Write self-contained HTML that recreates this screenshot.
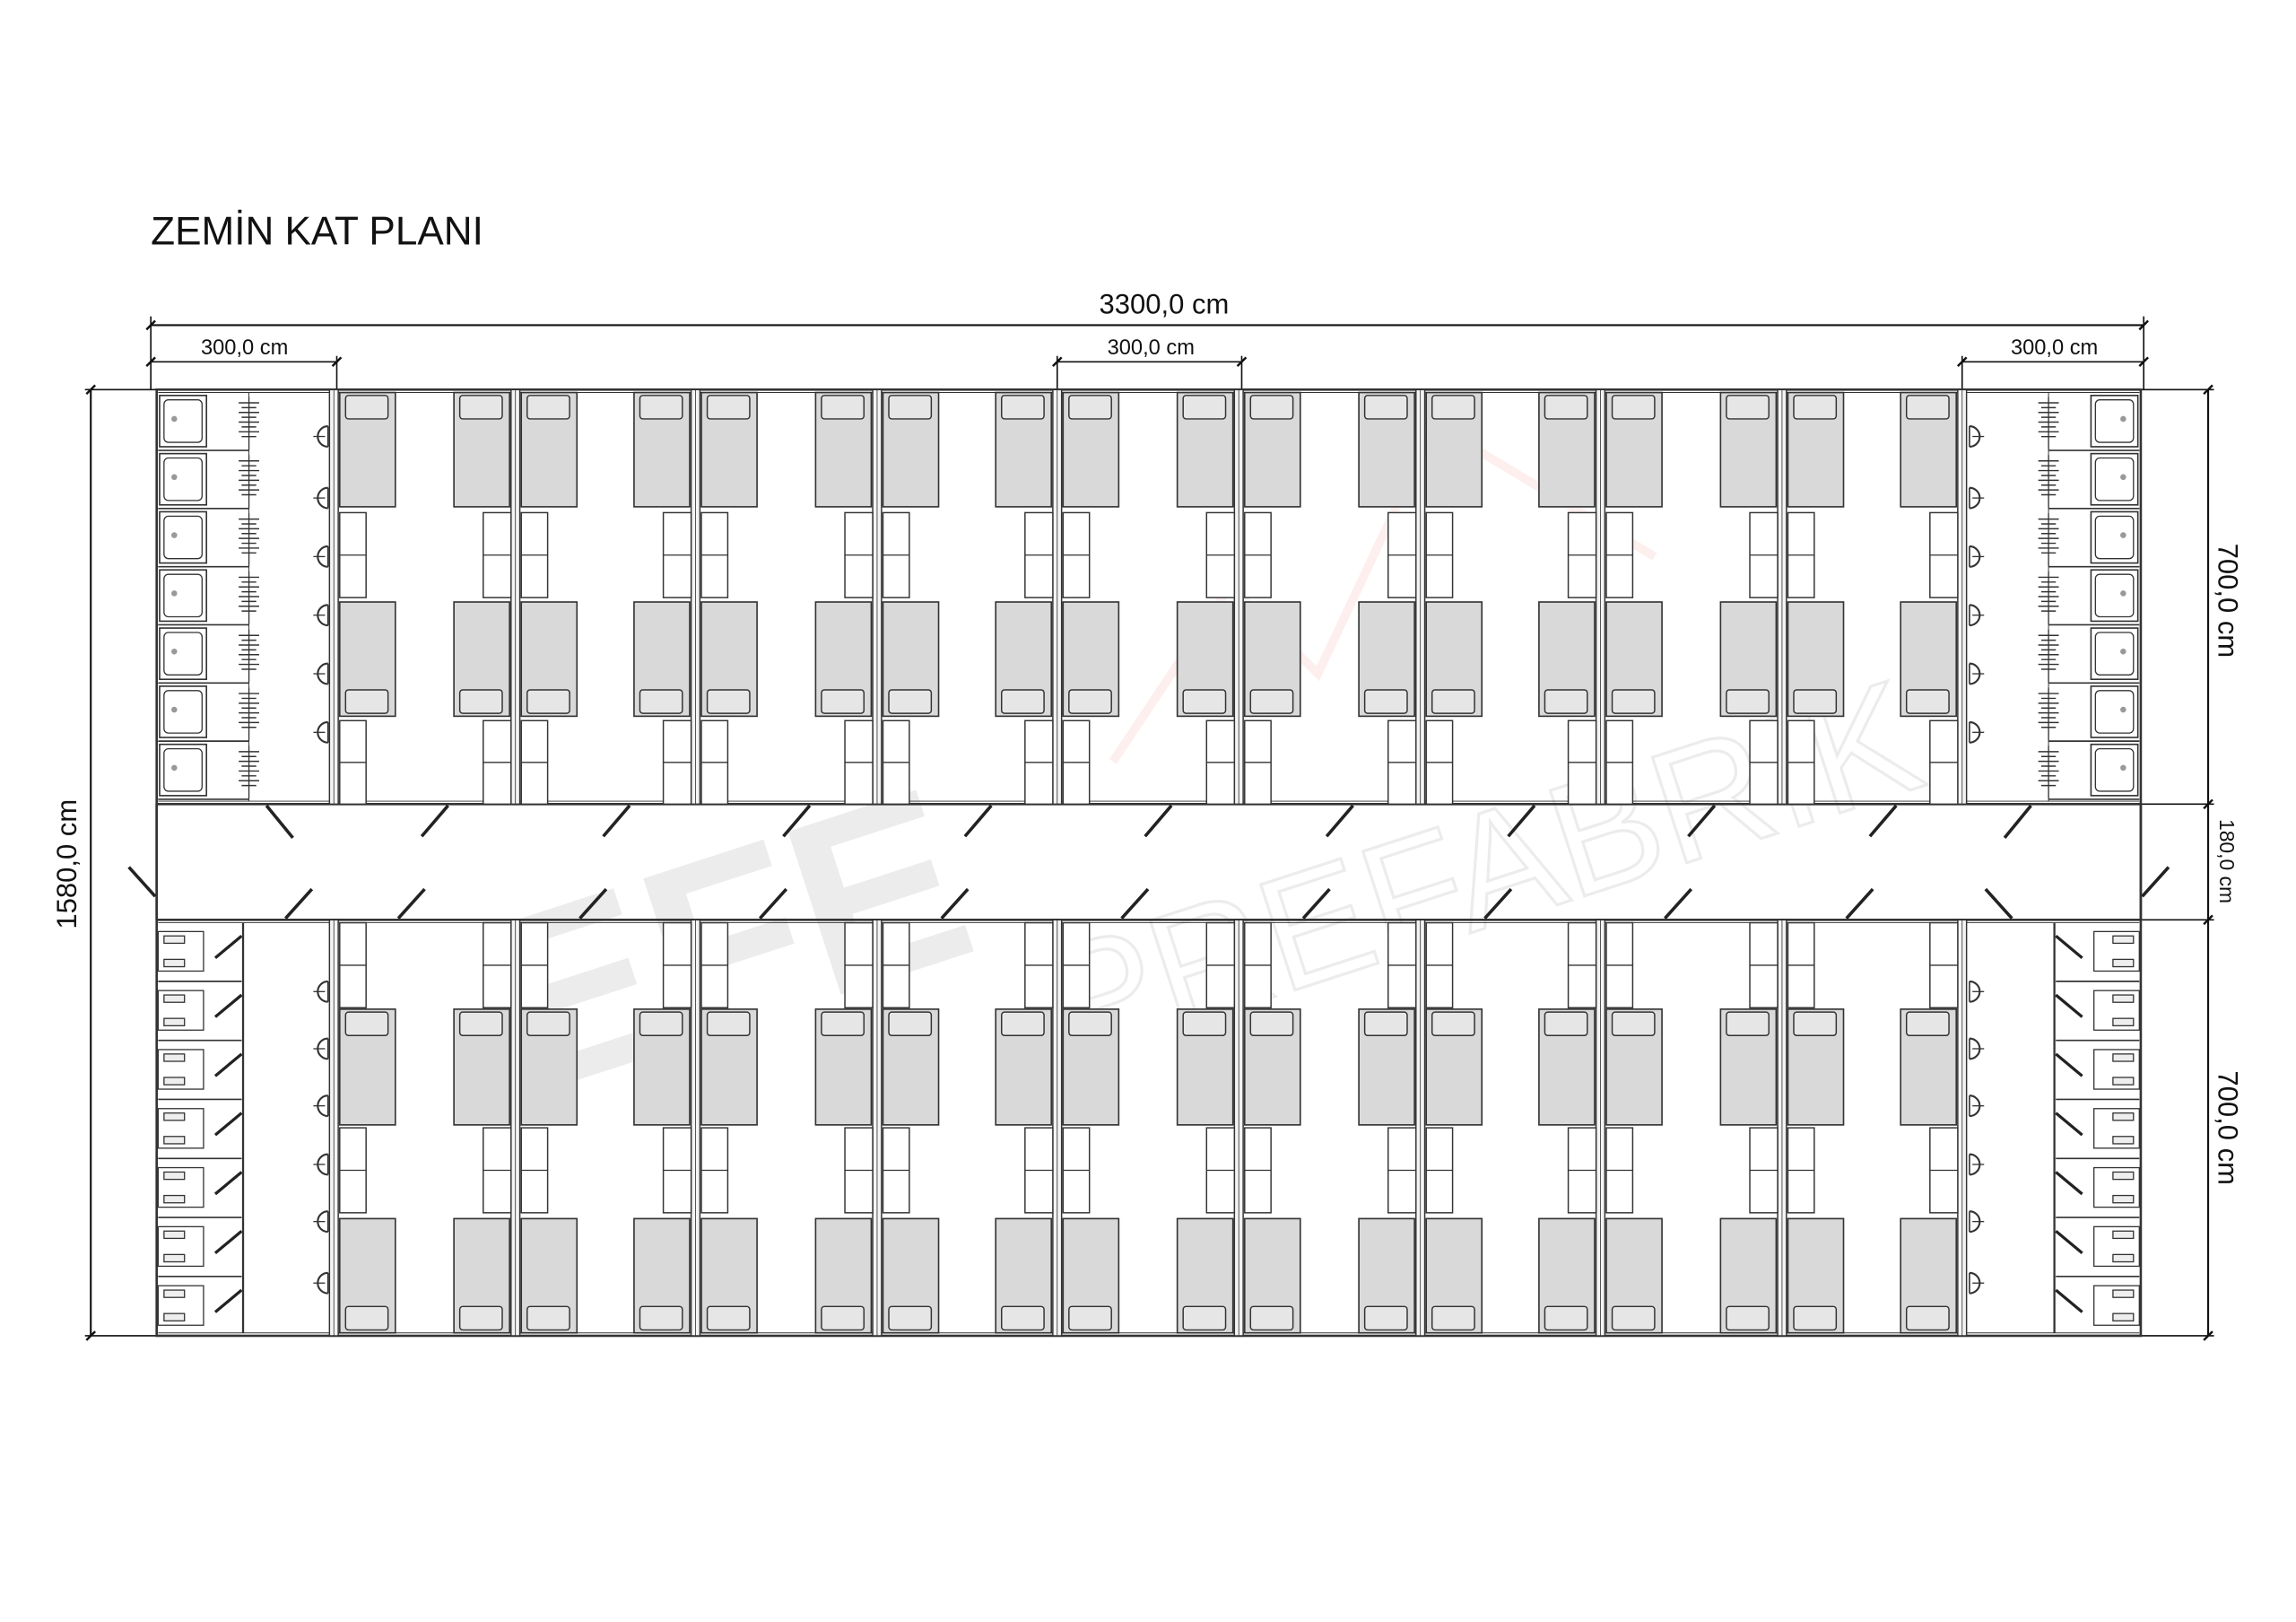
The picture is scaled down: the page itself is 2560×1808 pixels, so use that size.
<!DOCTYPE html>
<html><head><meta charset="utf-8"><style>
html,body{margin:0;padding:0;background:#fff;}
svg{display:block}
text{font-family:"Liberation Sans",sans-serif;fill:#111}
</style></head><body>
<svg id="s" width="2560" height="1808" viewBox="0 0 1568 1107.4" preserveAspectRatio="none" xmlns="http://www.w3.org/2000/svg">
<rect width="1568" height="1108" fill="#fff"/>
<g id="wm" opacity="0.07">
<text x="330" y="700" font-size="170" font-weight="bold" transform="rotate(-18 500 640)" style="fill:#000">EFE</text>
<text x="690" y="650" font-size="110" transform="rotate(-18 950 560)" style="fill:none;stroke:#000;stroke-width:2">PREFABRİK</text>
</g>
<path d="M760 520 L840 400 L900 460 L980 290 L1130 380" fill="none" stroke="#e33" stroke-width="6" opacity="0.08"/>
<g id="g" stroke="#333" fill="none" stroke-width="1"></g>
<text x="103" y="167" font-size="27">ZEMİN KAT PLANI</text>
<text x="795" y="214" font-size="19" text-anchor="middle">3300,0 cm</text>
<text x="167" y="242" font-size="14.5" text-anchor="middle">300,0 cm</text>
<text x="786" y="242" font-size="14.5" text-anchor="middle">300,0 cm</text>
<text x="1403" y="242" font-size="14.5" text-anchor="middle">300,0 cm</text>
<text font-size="19" text-anchor="middle" transform="translate(52 590) rotate(-90)">1580,0 cm</text>
<text font-size="19" text-anchor="middle" transform="translate(1515 410) rotate(90)">700,0 cm</text>
<text font-size="14" text-anchor="middle" transform="translate(1516 588) rotate(90)">180,0 cm</text>
<text font-size="19" text-anchor="middle" transform="translate(1515 770) rotate(90)">700,0 cm</text>
</svg>
<script>
var g=document.getElementById('g'),o='';
function L(a,b,c,d,w,col){o+='<line x1="'+a+'" y1="'+b+'" x2="'+c+'" y2="'+d+'"'+(w?' stroke-width="'+w+'"':'')+(col?' stroke="'+col+'"':'')+'/>';}
function R(x,y,w,h,f,sw,rx){o+='<rect x="'+x+'" y="'+y+'" width="'+w+'" height="'+h+'"'+(f?' fill="'+f+'"':'')+(sw?' stroke-width="'+sw+'"':'')+(rx?' rx="'+rx+'"':'')+'/>';}
// dimensions
L(103,222,1464,222,1.3,'#111');L(103,216,103,266,1,'#111');L(1464,216,1464,266,1,'#111');
L(103,247,230,247,1,'#111');L(230,243,230,266,1,'#111');
L(722,247,848,247,1,'#111');L(722,243,722,266,1,'#111');L(848,243,848,266,1,'#111');
L(1340,247,1464,247,1,'#111');L(1340,243,1340,266,1,'#111');
L(62,266,62,912,1.3,'#111');L(58,266,107,266,1,'#111');L(58,912,107,912,1,'#111');
L(1508,266,1508,912,1.3,'#111');L(1462,266,1512,266,1,'#111');L(1462,549,1512,549,1,'#111');L(1462,628,1512,628,1,'#111');L(1462,912,1512,912,1,'#111');
[[103,222],[1464,222],[103,247],[230,247],[722,247],[848,247],[1340,247],[1464,247],[62,266],[62,912],[1508,266],[1508,549],[1508,628],[1508,912]].forEach(function(p){L(p[0]-3,p[1]+3,p[0]+3,p[1]-3,1.5,'#111');});
// building outline
R(107,266,1355,646,null,1.6);
L(107,549,1462,549,1.6);L(107,628,1462,628,1.6);
L(108,268,1461,268,0.6);L(108,547,1461,547,0.6);L(108,630,1461,630,0.6);L(108,910,1461,910,0.6);
var W=[228,352,475,599,722,846,970,1093,1217,1340];
W.forEach(function(w){R(w-3,266,6,283,'#f4f4f4',0.9);L(w,266,w,549,0.5);R(w-3,628,6,284,'#f4f4f4',0.9);L(w,628,w,912,0.5);});
function pillow(x,y){R(x+3,y+2,29,16,'#e6e6e6',0.9,2);}
function bed(x,y,h,top){R(x,y,38,h,'#d9d9d9',1);pillow(x+1,top?y:y+h-20);}
for(var i=0;i<9;i++){var a=W[i],b=W[i+1];
 // top half
 bed(a+4,268,78,1);bed(b-42,268,78,1);bed(a+4,411,78,0);bed(b-42,411,78,0);
 [[350,58],[492,57]].forEach(function(q){R(a+4,q[0],18,q[1],'#fff',0.9);L(a+4,q[0]+q[1]/2,a+22,q[0]+q[1]/2,0.8);R(b-22,q[0],19,q[1],'#fff',0.9);L(b-22,q[0]+q[1]/2,b-3,q[0]+q[1]/2,0.8);});
 // bottom half
 bed(a+4,689,79,1);bed(b-42,689,79,1);bed(a+4,832,78,0);bed(b-42,832,78,0);
 [[630,58],[770,58]].forEach(function(q){R(a+4,q[0],18,q[1],'#fff',0.9);L(a+4,q[0]+q[1]/2,a+22,q[0]+q[1]/2,0.8);R(b-22,q[0],19,q[1],'#fff',0.9);L(b-22,q[0]+q[1]/2,b-3,q[0]+q[1]/2,0.8);});
 // corridor doors
 L(a+78,550,a+60,571,2.2,'#222');L(a+44,627,a+62,607,2.2,'#222');
}
// end blocks doors (bath side)
L(182,550,200,572,2.2,'#222');L(1387,550,1369,572,2.2,'#222');
L(195,627,213,607,2.2,'#222');L(1374,627,1356,607,2.2,'#222');
// corridor end doors
L(107,549,107,628,1.6);L(1462,549,1462,628,1.6);
L(88,592,106,612,2.2,'#222');L(1481,592,1463,612,2.2,'#222');
function side(m){ // m: function mapping x
 function X(x){return m?1569-x:x;}
 function Rm(x,y,w,h,f,sw,rx){R(m?1569-x-w:x,y,w,h,f,sw,rx);}
 // showers
 for(var k=0;k<7;k++){var y=270+k*39.7;
  Rm(109,y,32,35,'#fff',1);Rm(112,y+3,26,29,'#fff',0.8,3);
  o+='<circle cx="'+X(119)+'" cy="'+(y+16)+'" r="2" fill="#999" stroke="none"/>';
  L(X(108),y+37.5,X(170),y+37.5,1);
  // towel
  for(var t=0;t<8;t++){var yy=y+5+t*3.3,ww=(t%2?5:7);L(X(170-ww),yy,X(170+ww),yy,0.9);}
  L(X(170),y+1,X(170),y+37,0.8);
 }
 L(X(170),268,X(170),547,0.6);
 // sinks top
 [298,340,380,420,460,500].forEach(function(cy){o+='<path d="M'+X(224)+' '+(cy-7)+' A7 7 0 0 '+(m?1:0)+' '+X(224)+' '+(cy+7)+'" stroke-width="1.3"/>';L(X(224),cy-7,X(224),cy+7,1);L(X(214),cy,X(222),cy,0.8);});
 [677,716,755,795,834,876].forEach(function(cy){o+='<path d="M'+X(224)+' '+(cy-7)+' A7 7 0 0 '+(m?1:0)+' '+X(224)+' '+(cy+7)+'" stroke-width="1.3"/>';L(X(224),cy-7,X(224),cy+7,1);L(X(214),cy,X(222),cy,0.8);});
 // toilets
 for(var k=0;k<7;k++){var y=630+k*40.3;
  Rm(108,y+6,31,27,'#fff',0.8);Rm(112,y+9,14,5,'#eee',0.8);Rm(112,y+25,14,5,'#eee',0.8);
  L(X(108),y+40,X(165),y+40,1);
  L(X(165),y+9,X(147),y+24,2,'#222');
 }
 L(X(166),630,X(166),910,1.4);
}
side(false);side(true);
g.innerHTML=o;
</script>
</body></html>
